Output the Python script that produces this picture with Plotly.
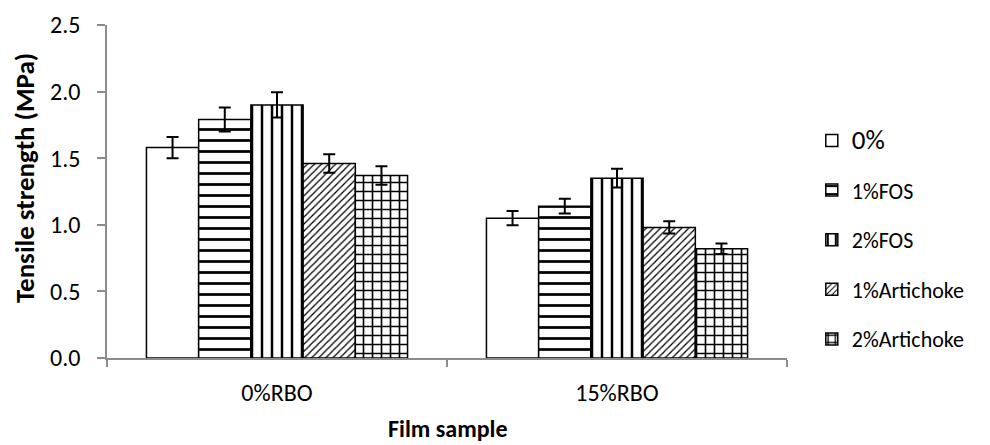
import plotly.graph_objects as go

categories = ["0%RBO", "15%RBO"]
series_names = ["0%", "1%FOS", "2%FOS", "1%Artichoke", "2%Artichoke"]
vals_0 = [1.58, 1.05]
vals_1fos = [1.79, 1.14]
vals_2fos = [1.90, 1.35]
vals_1art = [1.46, 0.98]
vals_2art = [1.37, 0.82]
err_0 = [0.08, 0.054]
err_1fos = [0.09, 0.056]
err_2fos = [0.095, 0.07]
err_1art = [0.07, 0.046]
err_2art = [0.07, 0.039]
y_ticks = [0.0, 0.5, 1.0, 1.5, 2.0, 2.5]

FONT = "Calibri, Carlito, Lato, sans-serif"

values = [vals_0, vals_1fos, vals_2fos, vals_1art, vals_2art]
errors = [err_0, err_1fos, err_2fos, err_1art, err_2art]
patterns = [
    dict(shape=""),
    dict(shape="-", size=11, solidity=0.25),
    dict(shape="|", size=10, solidity=0.25),
    dict(shape="/", size=5, solidity=0.25),
    dict(shape="+", size=9, solidity=0.33),
]
legend_labels = ['<span style="font-size:27px">0%</span>', "1%FOS", "2%FOS", "1%Artichoke", "2%Artichoke"]

fig = go.Figure()
for i, name in enumerate(series_names):
    pat = dict(patterns[i])
    if pat["shape"]:
        pat.update(fgcolor="black", bgcolor="white", fillmode="replace")
    fig.add_trace(go.Bar(
        x=categories, y=values[i], name=legend_labels[i],
        legendgroup=name,
        marker=dict(color="white", line=dict(color="black", width=1.5), pattern=pat),
        error_y=dict(type="data", array=errors[i], color="black", thickness=2, width=6),
    ))

fig.update_layout(
    width=990, height=445,
    margin=dict(l=107, r=203, t=25, b=87, autoexpand=False),
    paper_bgcolor="white", plot_bgcolor="white",
    barmode="group", bargap=0.232, bargroupgap=0,
    font=dict(family=FONT, size=24, color="black"),
    showlegend=True,
    legend=dict(
        xref="container", yref="container", x=0.820, y=0.731,
        xanchor="left", yanchor="top", maxheight=440,
        font=dict(family=FONT, size=22, color="black"),
        traceorder="grouped", tracegroupgap=18,
        bgcolor="rgba(0,0,0,0)",
    ),
    xaxis=dict(
        range=[-0.5, 1.5], showline=True, linecolor="#8c8c8c", linewidth=1.5,
        ticks="outside", tickson="boundaries", ticklen=7, tickcolor="#8c8c8c", tickwidth=1.5,
        showgrid=False, tickfont=dict(family=FONT, size=24), ticklabelstandoff=12,
        automargin=False,
    ),
    yaxis=dict(
        range=[0, 2.5], tickvals=y_ticks, tickformat=".1f",
        showline=True, linecolor="#8c8c8c", linewidth=1.5,
        ticks="outside", ticklen=8, tickcolor="#8c8c8c", tickwidth=1.5,
        showgrid=False, zeroline=False, tickfont=dict(family=FONT, size=24),
        ticklabelstandoff=12, automargin=False,
    ),
    annotations=[
        dict(text="Tensile strength (MPa)", xref="paper", yref="paper",
             x=(24 - 107) / 680, y=(358 - 178) / 333, xanchor="center", yanchor="middle",
             textangle=-90, showarrow=False,
             font=dict(family=FONT, size=27, weight=700, color="black")),
        dict(text="Film sample", xref="paper", yref="paper",
             x=(448 - 107) / 680, y=(358 - 428) / 333, xanchor="center", yanchor="middle",
             showarrow=False,
             font=dict(family=FONT, size=24, weight=700, color="black")),
    ],
)

fig.write_html("out.html", config={"displayModeBar": False},
               post_script="document.body.style.margin='0';")
